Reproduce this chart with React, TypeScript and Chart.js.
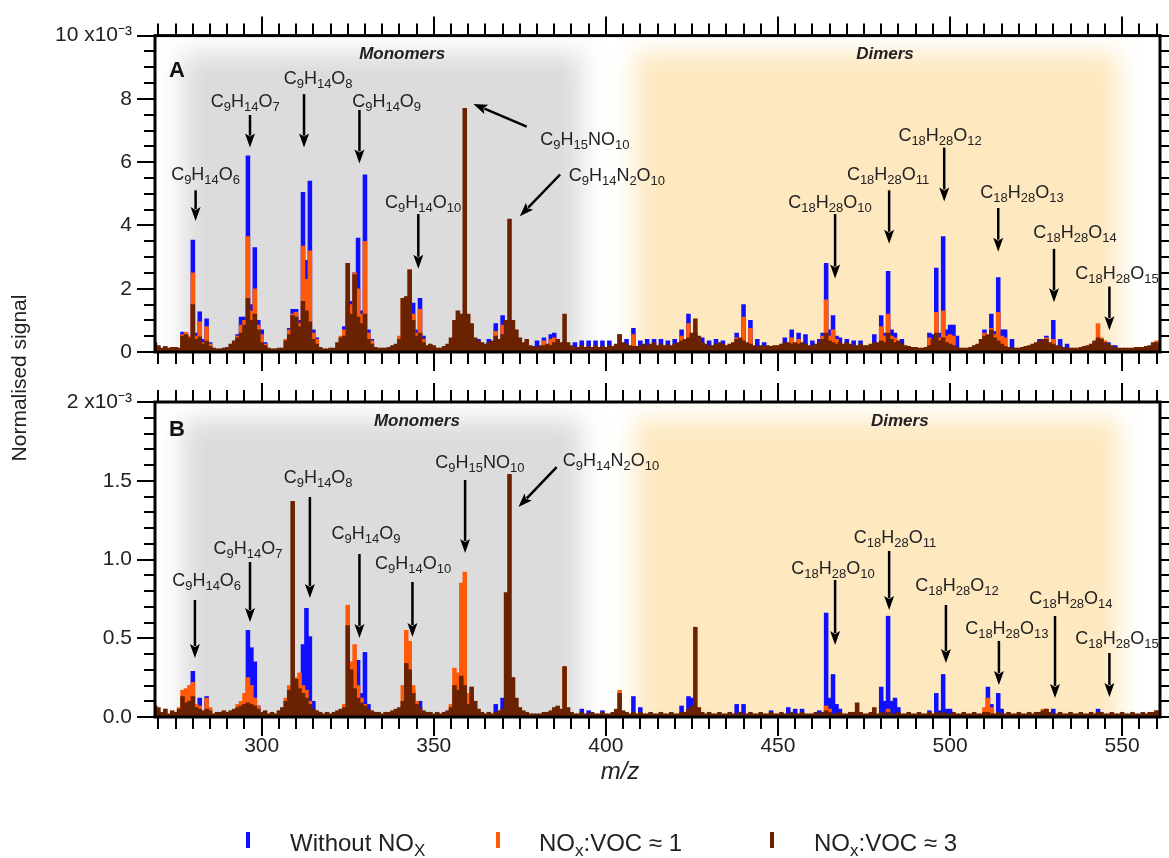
import React, { useEffect, useRef } from "react";
import { Chart, registerables } from "chart.js";

Chart.register(...registerables);

const FONT = '"Liberation Sans", Arial, Helvetica, sans-serif';
Chart.defaults.font.family = FONT;
Chart.defaults.color = "#222";

// ---------------- axis / category data ----------------
const X_MIN = 269;
const X_MAX = 561;
const MZ_START = 269; // first m/z of the full brown series
const X_TICK_STEP = 50;
const yTickLabelsA = ["0", "2", "4", "6", "8", "10 x10\u207B\u00B3"];
const yTickLabelsB = ["0.0", "0.5", "1.0", "1.5", "2 x10\u207B\u00B3"];

// legend labels: [text, isSubscript]
const seriesNames: [string, boolean][][] = [
  [["Without NO", false], ["X", true]],
  [["NO", false], ["x", true], [":VOC \u2248 1", false]],
  [["NO", false], ["x", true], [":VOC \u2248 3", false]],
];
const seriesColors = ["#1010ff", "#ff5a0a", "#6a2200"];

// ---------------- Panel A (x10^-3) ----------------
// NOx:VOC ~ 3, one value per m/z from 269 to 560
const brownA = [
  /*269*/ 0.30, 0.20, 0.12, 0.18, 0.12, 0.15, 0.15, 0.12, 0.50, 0.55,
  /*279*/ 0.45, 1.50, 0.40, 0.48, 0.25, 0.35, 0.18, 0.12, 0.10, 0.10,
  /*289*/ 0.12, 0.15, 0.25, 0.35, 0.45, 0.60, 0.85, 1.70, 1.00, 1.20,
  /*299*/ 0.70, 0.30, 0.20, 0.12, 0.10, 0.10, 0.12, 0.12, 0.35, 0.55,
  /*309*/ 1.15, 1.10, 0.80, 1.60, 1.30, 0.95, 0.40, 0.25, 0.15, 0.10,
  /*319*/ 0.10, 0.12, 0.12, 0.30, 0.45, 0.50, 2.80, 1.20, 2.45, 1.10,
  /*329*/ 0.90, 1.20, 0.40, 0.25, 0.15, 0.12, 0.12, 0.12, 0.15, 0.20,
  /*339*/ 0.25, 0.40, 1.70, 1.75, 2.60, 1.00, 0.50, 0.60, 0.30, 0.20,
  /*349*/ 0.25, 0.20, 0.12, 0.12, 0.18, 0.25, 0.45, 1.00, 1.30, 1.20,
  /*359*/ 7.70, 1.20, 0.90, 0.45, 0.35, 0.30, 0.25, 0.30, 0.35, 0.50,
  /*369*/ 0.40, 0.55, 1.00, 4.20, 1.00, 0.70, 0.45, 0.30, 0.40, 0.20,
  /*379*/ 0.18, 0.15, 0.20, 0.20, 0.25, 0.20, 0.30, 0.40, 0.30, 1.20,
  /*389*/ 0.30, 0.20, 0.15, 0.15, 0.20, 0.15, 0.18, 0.15, 0.20, 0.15,
  /*399*/ 0.18, 0.15, 0.20, 0.18, 0.25, 0.55, 0.30, 0.25, 0.20, 0.18,
  /*409*/ 0.18, 0.20, 0.25, 0.20, 0.25, 0.30, 0.20, 0.25, 0.20, 0.22,
  /*419*/ 0.20, 0.25, 0.30, 0.35, 0.40, 0.45, 0.60, 1.05, 0.50, 0.30,
  /*429*/ 0.25, 0.20, 0.20, 0.25, 0.30, 0.25, 0.20, 0.25, 0.30, 0.40,
  /*439*/ 0.45, 0.35, 0.30, 0.25, 0.20, 0.18, 0.20, 0.18, 0.20, 0.18,
  /*449*/ 0.20, 0.20, 0.25, 0.30, 0.30, 0.25, 0.30, 0.25, 0.30, 0.25,
  /*459*/ 0.20, 0.20, 0.25, 0.30, 0.40, 0.60, 0.35, 0.30, 0.25, 0.30,
  /*469*/ 0.25, 0.30, 0.25, 0.20, 0.20, 0.25, 0.20, 0.20, 0.25, 0.30,
  /*479*/ 0.30, 0.35, 0.30, 0.60, 0.40, 0.30, 0.35, 0.25, 0.20, 0.18,
  /*489*/ 0.15, 0.15, 0.12, 0.12, 0.15, 0.20, 0.40, 0.60, 0.35, 0.45,
  /*499*/ 0.30, 0.25, 0.20, 0.15, 0.12, 0.12, 0.12, 0.15, 0.20, 0.25,
  /*509*/ 0.40, 0.50, 0.55, 0.70, 0.45, 0.35, 0.25, 0.18, 0.15, 0.12,
  /*519*/ 0.12, 0.12, 0.15, 0.18, 0.20, 0.25, 0.30, 0.35, 0.40, 0.40,
  /*529*/ 0.30, 0.25, 0.20, 0.18, 0.15, 0.12, 0.12, 0.12, 0.12, 0.15,
  /*539*/ 0.18, 0.20, 0.25, 0.35, 0.45, 0.40, 0.30, 0.25, 0.20, 0.15,
  /*549*/ 0.12, 0.12, 0.12, 0.12, 0.12, 0.15, 0.15, 0.15, 0.18, 0.20,
  /*559*/ 0.30, 0.30,
];
// NOx:VOC ~ 1, [m/z, value] where visible
const orangeA: [number, number][] = [
  [277, 0.55], [278, 0.62], [279, 0.5], [280, 2.5], [281, 0.5], [282, 0.95], [283, 0.3], [284, 0.8], [285, 0.25],
  [293, 0.5], [294, 0.85], [295, 1.0], [296, 3.65], [297, 1.3], [298, 2.0], [299, 0.85], [300, 0.55], [301, 0.25],
  [307, 0.4], [308, 0.7], [309, 1.2], [310, 1.25], [311, 0.9], [312, 3.35], [313, 2.3], [314, 3.2], [315, 0.6], [316, 0.4],
  [323, 0.5], [324, 0.7], [325, 2.8], [326, 1.5], [327, 2.5], [328, 2.0], [329, 1.2], [330, 3.5], [331, 0.6], [332, 0.35],
  [340, 0.5], [341, 1.7], [342, 1.75], [343, 2.6], [344, 1.2], [345, 0.6], [346, 1.35], [347, 0.4],
  [368, 0.65], [370, 0.85], [382, 0.35], [384, 0.4], [385, 0.45],
  [404, 0.55], [408, 0.55], [422, 0.5], [424, 0.9], [426, 0.55],
  [438, 0.45], [440, 1.1], [442, 0.75], [454, 0.45], [456, 0.4],
  [463, 0.5], [464, 1.65], [465, 0.5], [466, 0.7], [467, 0.4],
  [480, 0.8], [481, 0.5], [482, 1.2], [483, 0.5], [484, 0.45],
  [494, 0.45], [496, 1.25], [497, 0.45], [498, 1.3], [499, 0.5], [500, 0.55], [501, 0.5],
  [510, 0.6], [512, 0.75], [513, 0.55], [514, 1.25], [515, 0.5], [516, 0.45],
  [528, 0.45], [530, 0.4], [543, 0.9], [544, 0.45], [545, 0.35], [560, 0.35],
];
// Without NOx, [m/z, value] where visible
const blueA: [number, number][] = [
  [277, 0.63], [278, 0.6], [280, 3.54], [281, 0.6], [282, 1.27], [283, 0.4], [284, 1.05], [285, 0.3],
  [293, 0.55], [294, 1.1], [295, 1.1], [296, 6.2], [297, 1.5], [298, 3.3], [299, 1.0], [300, 0.7], [301, 0.3],
  [308, 0.75], [309, 1.35], [310, 1.35], [311, 1.0], [312, 5.05], [313, 2.9], [314, 5.4], [315, 0.7], [316, 0.45],
  [324, 0.8], [325, 1.6], [326, 1.6], [327, 2.5], [328, 3.6], [329, 1.3], [330, 5.6], [331, 0.7], [332, 0.4],
  [344, 1.55], [345, 0.7], [346, 1.7], [347, 0.5],
  [358, 1.0], [363, 0.4], [366, 0.4], [368, 0.9], [370, 1.15],
  [380, 0.35], [382, 0.45], [384, 0.55], [385, 0.6],
  [391, 0.3], [393, 0.35], [395, 0.35], [397, 0.35], [399, 0.35], [401, 0.35], [404, 0.55], [406, 0.4], [408, 0.75],
  [410, 0.35], [412, 0.4], [414, 0.4], [416, 0.4], [418, 0.35],
  [420, 0.4], [422, 0.7], [424, 1.2], [426, 0.6], [428, 0.45], [430, 0.35], [432, 0.4], [434, 0.35],
  [438, 0.6], [440, 1.5], [442, 1.0], [444, 0.4], [446, 0.3],
  [452, 0.45], [454, 0.7], [456, 0.6], [458, 0.55], [460, 0.35], [462, 0.4], [463, 0.6],
  [464, 2.8], [465, 0.7], [466, 1.15], [467, 0.5], [468, 0.45], [470, 0.4], [472, 0.35], [474, 0.35],
  [478, 0.55], [480, 1.15], [481, 0.6], [482, 2.55], [483, 0.7], [484, 0.6], [486, 0.4],
  [494, 0.6], [495, 0.55], [496, 2.65], [497, 0.6], [498, 3.65], [499, 0.7], [500, 0.85], [501, 0.85], [502, 0.5],
  [510, 0.7], [512, 1.2], [513, 0.65], [514, 2.35], [515, 0.7], [516, 0.7], [518, 0.4],
  [526, 0.4], [528, 0.5], [530, 1.0], [532, 0.4], [534, 0.25],
  [542, 0.3], [544, 0.4], [546, 0.3], [548, 0.2],
];

// ---------------- Panel B (x10^-3) ----------------
const brownB = [
  /*269*/ 0.07, 0.06, 0.03, 0.05, 0.02, 0.04, 0.03, 0.05, 0.13, 0.09,
  /*279*/ 0.10, 0.13, 0.06, 0.05, 0.04, 0.05, 0.04, 0.02, 0.03, 0.03,
  /*289*/ 0.04, 0.03, 0.04, 0.05, 0.06, 0.07, 0.08, 0.09, 0.08, 0.07,
  /*299*/ 0.05, 0.03, 0.04, 0.02, 0.03, 0.02, 0.04, 0.06, 0.10, 0.17,
  /*309*/ 1.37, 0.24, 0.18, 0.15, 0.12, 0.08, 0.05, 0.04, 0.03, 0.02,
  /*319*/ 0.03, 0.02, 0.03, 0.04, 0.05, 0.06, 0.58, 0.30, 0.18, 0.12,
  /*329*/ 0.09, 0.07, 0.05, 0.04, 0.03, 0.03, 0.02, 0.03, 0.03, 0.04,
  /*339*/ 0.05, 0.06, 0.10, 0.34, 0.30, 0.15, 0.08, 0.06, 0.04, 0.03,
  /*349*/ 0.03, 0.02, 0.03, 0.02, 0.03, 0.04, 0.06, 0.20, 0.17, 0.26,
  /*359*/ 0.20, 0.08, 0.19, 0.10, 0.05, 0.03, 0.02, 0.03, 0.02, 0.03,
  /*369*/ 0.04, 0.05, 0.79, 1.54, 0.25, 0.12, 0.06, 0.04, 0.03, 0.02,
  /*379*/ 0.02, 0.02, 0.02, 0.03, 0.03, 0.04, 0.06, 0.07, 0.05, 0.32,
  /*389*/ 0.06, 0.03, 0.02, 0.02, 0.03, 0.02, 0.02, 0.03, 0.02, 0.02,
  /*399*/ 0.03, 0.02, 0.02, 0.03, 0.05, 0.15, 0.04, 0.03, 0.02, 0.03,
  /*409*/ 0.02, 0.03, 0.02, 0.02, 0.03, 0.02, 0.02, 0.03, 0.02, 0.02,
  /*419*/ 0.03, 0.02, 0.02, 0.03, 0.03, 0.05, 0.07, 0.57, 0.06, 0.03,
  /*429*/ 0.02, 0.03, 0.02, 0.02, 0.03, 0.02, 0.02, 0.03, 0.02, 0.02,
  /*439*/ 0.03, 0.02, 0.02, 0.03, 0.02, 0.02, 0.03, 0.02, 0.02, 0.03,
  /*449*/ 0.02, 0.02, 0.03, 0.02, 0.02, 0.03, 0.02, 0.02, 0.03, 0.02,
  /*459*/ 0.02, 0.02, 0.03, 0.02, 0.03, 0.04, 0.03, 0.02, 0.02, 0.03,
  /*469*/ 0.02, 0.02, 0.03, 0.03, 0.09, 0.03, 0.02, 0.02, 0.03, 0.06,
  /*479*/ 0.02, 0.03, 0.02, 0.03, 0.02, 0.02, 0.03, 0.02, 0.02, 0.03,
  /*489*/ 0.02, 0.02, 0.03, 0.02, 0.02, 0.03, 0.02, 0.03, 0.02, 0.03,
  /*499*/ 0.02, 0.02, 0.03, 0.02, 0.02, 0.03, 0.02, 0.02, 0.03, 0.02,
  /*509*/ 0.02, 0.03, 0.03, 0.02, 0.02, 0.03, 0.02, 0.02, 0.03, 0.02,
  /*519*/ 0.02, 0.03, 0.02, 0.02, 0.03, 0.02, 0.03, 0.03, 0.04, 0.05,
  /*529*/ 0.03, 0.02, 0.02, 0.03, 0.02, 0.02, 0.03, 0.02, 0.02, 0.03,
  /*539*/ 0.02, 0.02, 0.03, 0.02, 0.03, 0.03, 0.02, 0.02, 0.03, 0.02,
  /*549*/ 0.02, 0.03, 0.02, 0.02, 0.03, 0.02, 0.02, 0.03, 0.02, 0.03,
  /*559*/ 0.03, 0.04,
];
const orangeB: [number, number][] = [
  [269, 0.07], [272, 0.05], [276, 0.06], [277, 0.17], [278, 0.18], [279, 0.2], [280, 0.22], [281, 0.08], [282, 0.07], [284, 0.12], [285, 0.06],
  [293, 0.08], [294, 0.1], [295, 0.15], [296, 0.25], [297, 0.2], [298, 0.12], [299, 0.07],
  [307, 0.12], [308, 0.2], [310, 0.25], [311, 0.28], [312, 0.2], [313, 0.17], [314, 0.1],
  [324, 0.08], [325, 0.71], [326, 0.35], [327, 0.46], [328, 0.2], [329, 0.12], [330, 0.08],
  [341, 0.2], [342, 0.55], [343, 0.48], [344, 0.2], [345, 0.1],
  [355, 0.08], [356, 0.31], [357, 0.28], [358, 0.85], [359, 0.92], [360, 0.15], [361, 0.19], [362, 0.1],
  [373, 0.25], [388, 0.32], [404, 0.17], [464, 0.07], [465, 0.05], [482, 0.05],
  [510, 0.06], [511, 0.12], [512, 0.06], [527, 0.05], [528, 0.05], [560, 0.04],
];
const blueB: [number, number][] = [
  [280, 0.29], [282, 0.12], [284, 0.13], [296, 0.55], [297, 0.44], [298, 0.35], [299, 0.07],
  [311, 0.2], [312, 0.46], [313, 0.69], [314, 0.51], [315, 0.1],
  [328, 0.36], [329, 0.15], [330, 0.41], [331, 0.08],
  [344, 0.17], [346, 0.1], [368, 0.08], [370, 0.12],
  [393, 0.05], [395, 0.04], [399, 0.04], [408, 0.13], [410, 0.06],
  [422, 0.07], [424, 0.13], [425, 0.12], [438, 0.08], [440, 0.08], [448, 0.04],
  [453, 0.06], [455, 0.05], [457, 0.05], [462, 0.04],
  [464, 0.66], [465, 0.12], [466, 0.27], [467, 0.08], [468, 0.05],
  [480, 0.19], [481, 0.1], [482, 0.64], [483, 0.1], [484, 0.12], [485, 0.06],
  [494, 0.04], [496, 0.15], [497, 0.04], [498, 0.27], [499, 0.05], [500, 0.05],
  [511, 0.19], [512, 0.08], [514, 0.15], [515, 0.05], [530, 0.05], [543, 0.05],
];

// ---------------- annotations ----------------
// [formula, text m/z, text value, arrow-from m/z, arrow-from value, arrow-tip m/z, arrow-tip value]
type Ann = [string, number, number, number, number, number, number];
const annotationsA: Ann[] = [
  ["C9H14O6", 283.7, 5.64, 280.8, 5.11, 280.8, 4.14],
  ["C9H14O7", 295.2, 7.96, 296.6, 7.49, 296.6, 6.46],
  ["C9H14O8", 316.4, 8.68, 312.3, 8.15, 312.3, 6.46],
  ["C9H14O9", 336.3, 7.96, 328.4, 7.65, 328.4, 5.96],
  ["C9H14O10", 346.9, 4.76, 345.5, 4.36, 345.5, 2.63],
  ["C9H15NO10", 393.9, 6.74, 377.0, 7.12, 361.5, 7.84],
  ["C9H14N2O10", 403.2, 5.61, 386.7, 5.61, 375.0, 4.29],
  ["C18H28O10", 465.1, 4.76, 466.6, 4.36, 466.6, 2.32],
  ["C18H28O11", 482.0, 5.64, 482.3, 5.11, 482.3, 3.42],
  ["C18H28O12", 497.1, 6.87, 498.3, 6.46, 498.3, 4.76],
  ["C18H28O13", 520.9, 5.08, 514.0, 4.55, 514.0, 3.17],
  ["C18H28O14", 536.3, 3.82, 530.2, 3.26, 530.2, 1.57],
  ["C18H28O15", 548.5, 2.51, 546.3, 2.07, 546.3, 0.69],
];
const annotationsB: Ann[] = [
  ["C9H14O6", 284.0, 0.87, 280.6, 0.743, 280.6, 0.375],
  ["C9H14O7", 296.0, 1.079, 296.6, 0.984, 296.6, 0.603],
  ["C9H14O8", 316.4, 1.524, 314.0, 1.397, 314.0, 0.756],
  ["C9H14O9", 330.3, 1.168, 328.4, 1.035, 328.4, 0.502],
  ["C9H14O10", 344.0, 0.978, 343.8, 0.857, 343.8, 0.508],
  ["C9H15NO10", 363.4, 1.619, 359.1, 1.505, 359.1, 1.041],
  ["C9H14N2O10", 401.5, 1.632, 385.7, 1.587, 374.6, 1.333],
  ["C18H28O10", 466.0, 0.952, 466.6, 0.87, 466.6, 0.457],
  ["C18H28O11", 484.0, 1.143, 482.3, 1.054, 482.3, 0.679],
  ["C18H28O12", 502.0, 0.838, 498.8, 0.711, 498.8, 0.343],
  ["C18H28O13", 516.5, 0.571, 514.2, 0.483, 514.2, 0.203],
  ["C18H28O14", 535.1, 0.756, 530.5, 0.641, 530.5, 0.121],
  ["C18H28O15", 548.5, 0.502, 546.3, 0.406, 546.3, 0.127],
];
// shaded regions [from m/z, to m/z]
const monomerRange = [277, 393];
const dimerRange = [408.5, 549];
// region labels: [text, m/z, value]
const regionLabelsA: [string, number, number][] = [["Monomers", 340.8, 9.4], ["Dimers", 481.1, 9.4]];
const regionLabelsB: [string, number, number][] = [["Monomers", 345.1, 1.879], ["Dimers", 485.4, 1.879]];

// ---------------- drawing helpers ----------------
function parseFormula(f: string): [string, boolean][] {
  const out: [string, boolean][] = [];
  const re = /([A-Z][a-z]?)|(\d+)/g;
  let m: RegExpExecArray | null;
  while ((m = re.exec(f))) {
    if (m[1]) out.push([m[1], false]);
    else out.push([m[2], true]);
  }
  return out;
}

function drawSegments(
  ctx: CanvasRenderingContext2D,
  segs: [string, boolean][],
  x: number,
  yCenter: number,
  size: number,
  subSize: number,
  subDy: number,
  align: "center" | "left"
) {
  let w = 0;
  for (const [t, sub] of segs) {
    ctx.font = `${sub ? subSize : size}px ${FONT}`;
    w += ctx.measureText(t).width;
  }
  let cx = align === "center" ? x - w / 2 : x;
  const base = yCenter + size * 0.358;
  ctx.textAlign = "left";
  ctx.textBaseline = "alphabetic";
  for (const [t, sub] of segs) {
    ctx.font = `${sub ? subSize : size}px ${FONT}`;
    ctx.fillText(t, cx, sub ? base + subDy : base);
    cx += ctx.measureText(t).width;
  }
}

function drawArrow(ctx: CanvasRenderingContext2D, x1: number, y1: number, x2: number, y2: number) {
  const ang = Math.atan2(y2 - y1, x2 - x1);
  const hl = 14;
  const hw = 5;
  const bx = x2 - hl * Math.cos(ang);
  const by = y2 - hl * Math.sin(ang);
  ctx.lineWidth = 2.5;
  ctx.beginPath();
  ctx.moveTo(x1, y1);
  ctx.lineTo(bx + 2 * Math.cos(ang), by + 2 * Math.sin(ang));
  ctx.stroke();
  ctx.beginPath();
  ctx.moveTo(x2, y2);
  ctx.lineTo(bx + hw * Math.sin(ang), by - hw * Math.cos(ang));
  ctx.lineTo(bx + 3 * Math.cos(ang), by + 3 * Math.sin(ang));
  ctx.lineTo(bx - hw * Math.sin(ang), by + hw * Math.cos(ang));
  ctx.closePath();
  ctx.fill();
}

function panelPlugin(panel: "A" | "B") {
  const isA = panel === "A";
  return {
    id: "panel" + panel,
    beforeDatasetsDraw(chart: any) {
      const { ctx, chartArea } = chart;
      const { left, right, top, bottom } = chartArea;
      const xs = chart.scales.x;
      ctx.save();
      ctx.beginPath();
      ctx.rect(left, top, right - left, bottom - top);
      ctx.clip();
      ctx.filter = "blur(12px)";
      const g1 = xs.getPixelForValue(monomerRange[0]);
      const g2 = xs.getPixelForValue(monomerRange[1]);
      ctx.fillStyle = "#dcdcdc";
      ctx.fillRect(g1, top + 17, g2 - g1, bottom - top + 80);
      const o1 = xs.getPixelForValue(dimerRange[0]);
      const o2 = xs.getPixelForValue(dimerRange[1]);
      ctx.fillStyle = "#fde8bf";
      ctx.fillRect(o1, top + 17, o2 - o1, bottom - top + 80);
      ctx.restore();
    },
    afterDraw(chart: any) {
      const { ctx, chartArea } = chart;
      const { left, right, top, bottom } = chartArea;
      const xs = chart.scales.x;
      const ys = chart.scales.y;
      ctx.save();
      ctx.strokeStyle = "#000";
      ctx.fillStyle = "#000";
      ctx.lineCap = "butt";
      // x ticks (top and bottom, outward)
      ctx.lineWidth = 2;
      ctx.beginPath();
      for (let v = 270; v <= 560; v += 5) {
        const px = Math.round(xs.getPixelForValue(v));
        const len = v % 50 === 0 ? 19 : 12;
        ctx.moveTo(px, top);
        ctx.lineTo(px, top - len);
        ctx.moveTo(px, bottom);
        ctx.lineTo(px, bottom + len);
      }
      // y ticks (left and right, outward)
      const ymax = isA ? 10 : 2;
      const ystep = isA ? 0.5 : 0.1;
      const ymajor = isA ? 2 : 0.5;
      const n = Math.round(ymax / ystep);
      for (let i = 0; i <= n; i++) {
        const v = i * ystep;
        const py = Math.round(ys.getPixelForValue(v));
        const major = Math.abs(v / ymajor - Math.round(v / ymajor)) < 1e-6;
        const len = major ? 18 : 11;
        ctx.moveTo(left, py);
        ctx.lineTo(left - len, py);
        ctx.moveTo(right, py);
        ctx.lineTo(right + len, py);
      }
      ctx.stroke();
      // frame
      ctx.lineWidth = 3;
      ctx.strokeRect(left, top, right - left, bottom - top);

      // annotations
      const anns = isA ? annotationsA : annotationsB;
      for (const [f, tx, ty, ax1, ay1, ax2, ay2] of anns) {
        ctx.fillStyle = "#222";
        drawSegments(ctx, parseFormula(f), xs.getPixelForValue(tx), ys.getPixelForValue(ty), 18, 13, 4, "center");
        ctx.fillStyle = "#000";
        ctx.strokeStyle = "#000";
        drawArrow(
          ctx,
          xs.getPixelForValue(ax1),
          ys.getPixelForValue(ay1),
          xs.getPixelForValue(ax2),
          ys.getPixelForValue(ay2)
        );
      }
      // region labels
      ctx.fillStyle = "#222";
      ctx.font = `italic bold 17px ${FONT}`;
      ctx.textAlign = "center";
      ctx.textBaseline = "middle";
      for (const [t, mx, v] of isA ? regionLabelsA : regionLabelsB) {
        ctx.fillText(t, xs.getPixelForValue(mx), ys.getPixelForValue(v));
      }
      // panel letter
      ctx.fillStyle = "#111";
      ctx.font = `bold 22px ${FONT}`;
      ctx.textAlign = "left";
      ctx.fillText(panel, left + 14, top + (isA ? 35 : 28));

      if (!isA) {
        // y-axis title
        ctx.save();
        ctx.translate(20, 378);
        ctx.rotate(-Math.PI / 2);
        ctx.font = `21px ${FONT}`;
        ctx.fillStyle = "#222";
        ctx.textAlign = "center";
        ctx.textBaseline = "middle";
        ctx.fillText("Normalised signal", 0, 0);
        ctx.restore();
        // x-axis title
        ctx.font = `italic 24px ${FONT}`;
        ctx.fillStyle = "#222";
        ctx.textAlign = "center";
        ctx.textBaseline = "middle";
        ctx.fillText("m/z", 620, 772);
        // legend
        const markX = [248, 498, 772];
        const textX = [290, 539, 814];
        for (let i = 0; i < 3; i++) {
          ctx.strokeStyle = seriesColors[i];
          ctx.lineWidth = 4;
          ctx.beginPath();
          ctx.moveTo(markX[i], 832);
          ctx.lineTo(markX[i], 848);
          ctx.stroke();
          ctx.fillStyle = "#222";
          drawSegments(ctx, seriesNames[i], textX[i], 842, 24, 17, 5, "left");
        }
      }
      ctx.restore();
    },
  };
}

function makeConfig(panel: "A" | "B"): any {
  const isA = panel === "A";
  const brown = isA ? brownA : brownB;
  const orange = isA ? orangeA : orangeB;
  const blue = isA ? blueA : blueB;
  const labels = isA ? yTickLabelsA : yTickLabelsB;
  const step = isA ? 2 : 0.5;
  const plainName = (segs: [string, boolean][]) => segs.map((s) => s[0]).join("");
  return {
    type: "bar",
    data: {
      datasets: [
        {
          label: plainName(seriesNames[0]),
          data: blue.map(([x, y]) => ({ x, y })),
          backgroundColor: seriesColors[0],
          order: 3,
        },
        {
          label: plainName(seriesNames[1]),
          data: orange.map(([x, y]) => ({ x, y })),
          backgroundColor: seriesColors[1],
          order: 2,
        },
        {
          label: plainName(seriesNames[2]),
          data: brown.map((y, i) => ({ x: MZ_START + i, y })),
          backgroundColor: seriesColors[2],
          order: 1,
        },
      ],
    },
    options: {
      responsive: false,
      animation: false,
      events: [],
      layout: { padding: { left: 0, right: 9, top: isA ? 33 : 402, bottom: 0 }, autoPadding: false },
      datasets: { bar: { barThickness: 3.9, grouped: false, borderWidth: 0 } },
      plugins: { legend: { display: false }, tooltip: { enabled: false }, title: { display: false } },
      scales: {
        x: {
          type: "linear",
          min: X_MIN,
          max: X_MAX,
          offset: false,
          grid: { display: false, drawTicks: false },
          border: { display: false },
          ticks: {
            display: !isA,
            stepSize: X_TICK_STEP,
            includeBounds: false,
            autoSkip: false,
            maxRotation: 0,
            padding: 17,
            color: "#222",
            font: { family: FONT, size: 21 },
            callback: (v: number) => String(v),
          },
          afterFit: (s: any) => {
            s.height = isA ? 858 - 352 : 858 - 717;
          },
        },
        y: {
          type: "linear",
          min: 0,
          max: isA ? 10 : 2,
          grid: { display: false, drawTicks: false },
          border: { display: false },
          ticks: {
            stepSize: step,
            padding: 23,
            color: "#222",
            font: { family: FONT, size: 21 },
            callback: (v: number) => labels[Math.round(v / step)] ?? "",
          },
          afterFit: (s: any) => {
            s.width = 155;
          },
        },
      },
    },
    plugins: [panelPlugin(panel)],
  };
}

export default function App() {
  const refA = useRef<HTMLCanvasElement>(null);
  const refB = useRef<HTMLCanvasElement>(null);
  useEffect(() => {
    const a = new Chart(refA.current as HTMLCanvasElement, makeConfig("A"));
    const b = new Chart(refB.current as HTMLCanvasElement, makeConfig("B"));
    return () => {
      a.destroy();
      b.destroy();
    };
  }, []);
  return (
    <div style={{ position: "absolute", left: 0, top: 0, width: 1169, height: 858, background: "#fff" }}>
      <canvas ref={refA} width={1169} height={858} style={{ position: "absolute", left: 0, top: 0 }} />
      <canvas ref={refB} width={1169} height={858} style={{ position: "absolute", left: 0, top: 0 }} />
    </div>
  );
}
